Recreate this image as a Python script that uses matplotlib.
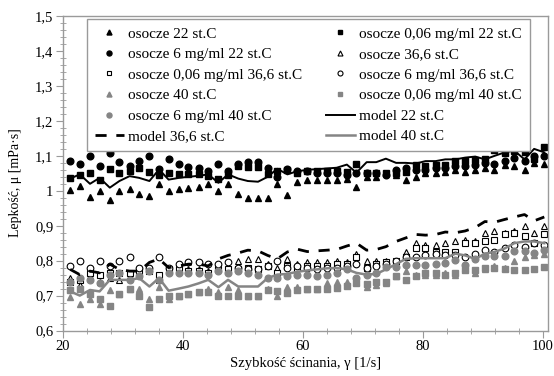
import matplotlib

matplotlib.use("Agg")
import matplotlib.pyplot as plt
from matplotlib.ticker import FuncFormatter, MultipleLocator

plt.rcParams.update({
    "font.family": ["Liberation Serif", "DejaVu Serif"],
    "font.size": 10.5,
})

# szybkość ścinania [1/s]
shear = [21.2, 22.8, 24.5, 26.1, 27.8, 29.4, 31.1, 32.7, 34.4, 36.0,
         37.6, 39.3, 40.9, 42.6, 44.2, 45.9, 47.5, 49.2, 50.8, 52.5,
         54.1, 55.7, 57.4, 59.0, 60.7, 62.3, 64.0, 65.6, 67.3, 68.9,
         70.6, 72.2, 73.8, 75.5, 77.1, 78.8, 80.4, 82.1, 83.7, 85.4,
         87.0, 88.7, 90.3, 91.9, 93.6, 95.2, 96.9, 98.5, 100.2]

# 22 st.C
tri22 = [1.002, 1.015, 0.982, 1.000, 0.975, 1.000, 1.006, 0.990, 0.986, 1.020,
         1.000, 1.006, 1.008, 1.012, 1.020, 1.000, 1.020, 0.990, 0.980, 0.980,
         0.980, 1.020, 0.988, 1.025, 1.030, 1.030, 1.030, 1.030, 1.035, 1.010,
         1.040, 1.040, 1.050, 1.045, 1.030, 1.040, 1.050, 1.050, 1.055, 1.060,
         1.055, 1.060, 1.065, 1.060, 1.075, 1.070, 1.060, 1.080, 1.078]
sq22 = [1.037, 1.045, 1.052, 1.030, 1.063, 1.050, 1.056, 1.066, 1.055, 1.045,
        1.050, 1.048, 1.048, 1.047, 1.042, 1.035, 1.045, 1.070, 1.068, 1.068,
        1.047, 1.058, 1.060, 1.050, 1.058, 1.058, 1.058, 1.058, 1.055, 1.078,
        1.050, 1.052, 1.050, 1.050, 1.055, 1.075, 1.072, 1.075, 1.075, 1.085,
        1.085, 1.088, 1.090, 1.118, 1.108, 1.115, 1.110, 1.090, 1.125]
circ22 = [1.085, 1.078, 1.100, 1.071, 1.109, 1.083, 1.071, 1.085, 1.101, 1.061,
          1.092, 1.076, 1.069, 1.066, 1.056, 1.076, 1.056, 1.078, 1.083, 1.083,
          1.066, 1.040, 1.062, 1.056, 1.056, 1.050, 1.050, 1.050, 1.045, 1.050,
          1.050, 1.050, 1.045, 1.060, 1.065, 1.060, 1.060, 1.065, 1.065, 1.070,
          1.070, 1.075, 1.080, 1.078, 1.085, 1.095, 1.085, 1.100, 1.100]
model22 = [1.035, 1.047, 1.020, 1.037, 1.009, 1.028, 1.042, 1.037, 1.028, 1.061,
           1.032, 1.037, 1.040, 1.043, 1.047, 1.023, 1.047, 1.035, 1.028, 1.026,
           1.040, 1.063, 1.047, 1.056, 1.060, 1.062, 1.064, 1.066, 1.075, 1.052,
           1.082, 1.082, 1.092, 1.080, 1.080, 1.078, 1.085, 1.085, 1.090, 1.090,
           1.095, 1.098, 1.090, 1.100, 1.110, 1.115, 1.090, 1.120, 1.110]

# 36,6 st.C
tri36 = [0.750, 0.730, 0.755, 0.740, 0.750, 0.745, 0.755, 0.760, 0.780, 0.745,
         0.770, 0.775, 0.775, 0.775, 0.770, 0.785, 0.785, 0.800, 0.805, 0.805,
         0.790, 0.780, 0.805, 0.790, 0.795, 0.795, 0.795, 0.800, 0.795, 0.820,
         0.800, 0.800, 0.800, 0.800, 0.825, 0.850, 0.845, 0.845, 0.850, 0.855,
         0.858, 0.855, 0.880, 0.886, 0.880, 0.886, 0.900, 0.880, 0.900]
sq36 = [0.740, 0.745, 0.765, 0.760, 0.765, 0.765, 0.765, 0.770, 0.770, 0.760,
        0.775, 0.775, 0.770, 0.770, 0.765, 0.775, 0.775, 0.775, 0.780, 0.775,
        0.785, 0.765, 0.785, 0.780, 0.785, 0.785, 0.785, 0.790, 0.790, 0.810,
        0.780, 0.790, 0.795, 0.800, 0.810, 0.835, 0.835, 0.825, 0.825, 0.825,
        0.850, 0.850, 0.855, 0.860, 0.875, 0.880, 0.870, 0.850, 0.875]
circ36 = [0.785, 0.800, 0.780, 0.800, 0.785, 0.800, 0.810, 0.780, 0.780, 0.810,
          0.780, 0.790, 0.795, 0.795, 0.790, 0.790, 0.795, 0.780, 0.775, 0.775,
          0.785, 0.800, 0.780, 0.785, 0.780, 0.775, 0.780, 0.780, 0.785, 0.790,
          0.780, 0.785, 0.790, 0.800, 0.810, 0.810, 0.815, 0.820, 0.815, 0.815,
          0.810, 0.820, 0.830, 0.825, 0.835, 0.845, 0.840, 0.850, 0.845]
model36 = [0.775, 0.760, 0.770, 0.765, 0.790, 0.775, 0.770, 0.770, 0.795, 0.805,
           0.780, 0.785, 0.790, 0.790, 0.785, 0.805, 0.815, 0.822, 0.830, 0.828,
           0.815, 0.805, 0.825, 0.833, 0.826, 0.828, 0.830, 0.832, 0.842, 0.850,
           0.830, 0.832, 0.840, 0.855, 0.865, 0.875, 0.873, 0.875, 0.882, 0.880,
           0.885, 0.895, 0.912, 0.910, 0.918, 0.925, 0.932, 0.914, 0.925]

# 40 st.C
tri40 = [0.695, 0.677, 0.690, 0.677, 0.716, 0.705, 0.720, 0.720, 0.690, 0.725,
         0.690, 0.700, 0.705, 0.710, 0.720, 0.710, 0.725, 0.715, 0.700, 0.700,
         0.720, 0.700, 0.725, 0.725, 0.720, 0.720, 0.735, 0.740, 0.740, 0.740,
         0.725, 0.730, 0.735, 0.755, 0.770, 0.760, 0.760, 0.760, 0.765, 0.760,
         0.780, 0.765, 0.775, 0.785, 0.780, 0.800, 0.810, 0.815, 0.820]
sq40 = [0.716, 0.720, 0.705, 0.690, 0.670, 0.705, 0.720, 0.700, 0.668, 0.690,
        0.700, 0.700, 0.705, 0.710, 0.710, 0.700, 0.700, 0.700, 0.700, 0.700,
        0.715, 0.712, 0.708, 0.715, 0.718, 0.720, 0.720, 0.722, 0.728, 0.735,
        0.732, 0.738, 0.740, 0.755, 0.745, 0.755, 0.764, 0.764, 0.760, 0.765,
        0.774, 0.774, 0.778, 0.779, 0.776, 0.774, 0.774, 0.775, 0.783]
circ40 = [0.740, 0.750, 0.745, 0.735, 0.760, 0.765, 0.745, 0.755, 0.770, 0.745,
          0.765, 0.765, 0.765, 0.765, 0.760, 0.770, 0.765, 0.770, 0.765, 0.760,
          0.750, 0.750, 0.755, 0.760, 0.760, 0.755, 0.760, 0.765, 0.775, 0.750,
          0.760, 0.765, 0.783, 0.783, 0.788, 0.788, 0.788, 0.790, 0.792, 0.803,
          0.788, 0.805, 0.812, 0.814, 0.812, 0.827, 0.827, 0.822, 0.830]
model40 = [0.712, 0.700, 0.716, 0.712, 0.745, 0.745, 0.745, 0.750, 0.726, 0.750,
           0.714, 0.720, 0.726, 0.735, 0.745, 0.724, 0.745, 0.726, 0.726, 0.726,
           0.750, 0.760, 0.762, 0.768, 0.772, 0.775, 0.778, 0.779, 0.775, 0.765,
           0.760, 0.762, 0.775, 0.790, 0.805, 0.807, 0.807, 0.807, 0.807, 0.820,
           0.815, 0.805, 0.820, 0.825, 0.835, 0.850, 0.855, 0.855, 0.850]

GRAY = "#858585"
EDGE = "#9a9a9a"
ms = 4.8

fig = plt.figure(figsize=(5.54, 3.76), dpi=100)
ax = fig.add_axes([0.1137, 0.121, 0.8753, 0.836])

h = {}
h["t22"], = ax.plot(shear, tri22, "^", color="black", ms=ms, ls="none", label="osocze 22 st.C")
h["s22"], = ax.plot(shear, sq22, "s", color="black", ms=ms, ls="none", label="osocze 0,06 mg/ml 22 st.C")
h["c22"], = ax.plot(shear, circ22, "o", color="black", ms=ms, ls="none", label="osocze 6 mg/ml 22 st.C")
h["t36"], = ax.plot(shear, tri36, "^", mfc="white", mec="black", mew=0.8, ms=ms, ls="none", label="osocze 36,6 st.C")
h["s36"], = ax.plot(shear, sq36, "s", mfc="white", mec="black", mew=0.8, ms=ms, ls="none", label="osocze 0,06 mg/ml 36,6 st.C")
h["c36"], = ax.plot(shear, circ36, "o", mfc="white", mec="black", mew=0.8, ms=ms, ls="none", label="osocze 6 mg/ml 36,6 st.C")
h["t40"], = ax.plot(shear, tri40, "^", color=GRAY, ms=ms, ls="none", label="osocze 40 st.C")
h["s40"], = ax.plot(shear, sq40, "s", color=GRAY, ms=ms, ls="none", label="osocze 0,06 mg/ml 40 st.C")
h["c40"], = ax.plot(shear, circ40, "o", color=GRAY, ms=ms, ls="none", label="osocze 6 mg/ml 40 st.C")
h["m22"], = ax.plot(shear, model22, "-", color="black", lw=1.4, label="model 22 st.C")
h["m36"], = ax.plot(shear, model36, color="black", lw=2.0, ls=(0, (4, 3.5)), label="model 36,6 st.C")
h["m40"], = ax.plot(shear, model40, "-", color=GRAY, lw=1.8, label="model 40 st.C")

ax.set_xlim(20, 100.8)
ax.set_ylim(0.6, 1.5)
ax.xaxis.set_major_locator(MultipleLocator(20))
ax.xaxis.set_minor_locator(MultipleLocator(4))
ax.yaxis.set_major_locator(MultipleLocator(0.1))
ax.yaxis.set_minor_locator(MultipleLocator(0.02))
ax.yaxis.set_major_formatter(FuncFormatter(lambda v, p: f"{round(v, 2):g}".replace(".", ",")))

for s in ax.spines.values():
    s.set_color(EDGE)
    s.set_linewidth(1.0)
ax.tick_params(which="major", direction="out", length=5, color=EDGE, labelsize=10.5, pad=2)
ax.tick_params(which="minor", direction="inout", length=4, color=EDGE)

ax.set_xlabel("Szybkość ścinania, γ [1/s]", fontsize=10.5, labelpad=3)
ax.set_ylabel("Lepkość, μ [mPa·s]", fontsize=10)
ax.yaxis.set_label_coords(-0.085, 0.47)

order = ["t22", "c22", "s36", "t40", "c40", "m36",
         "s22", "t36", "c36", "s40", "m22", "m40"]
leg = ax.legend([h[k] for k in order], [h[k].get_label() for k in order],
                ncol=2, loc="upper left", bbox_to_anchor=(0.0495, 0.99, 0.913, 0.0),
                mode="expand", borderaxespad=0.0, fontsize=11, frameon=True,
                fancybox=False, edgecolor=EDGE, framealpha=1, handlelength=1.9,
                handletextpad=0.3, labelspacing=0.45, markerscale=0.75, borderpad=0.5)
leg.get_frame().set_linewidth(1.0)

fig.savefig("out.png", dpi=100)
